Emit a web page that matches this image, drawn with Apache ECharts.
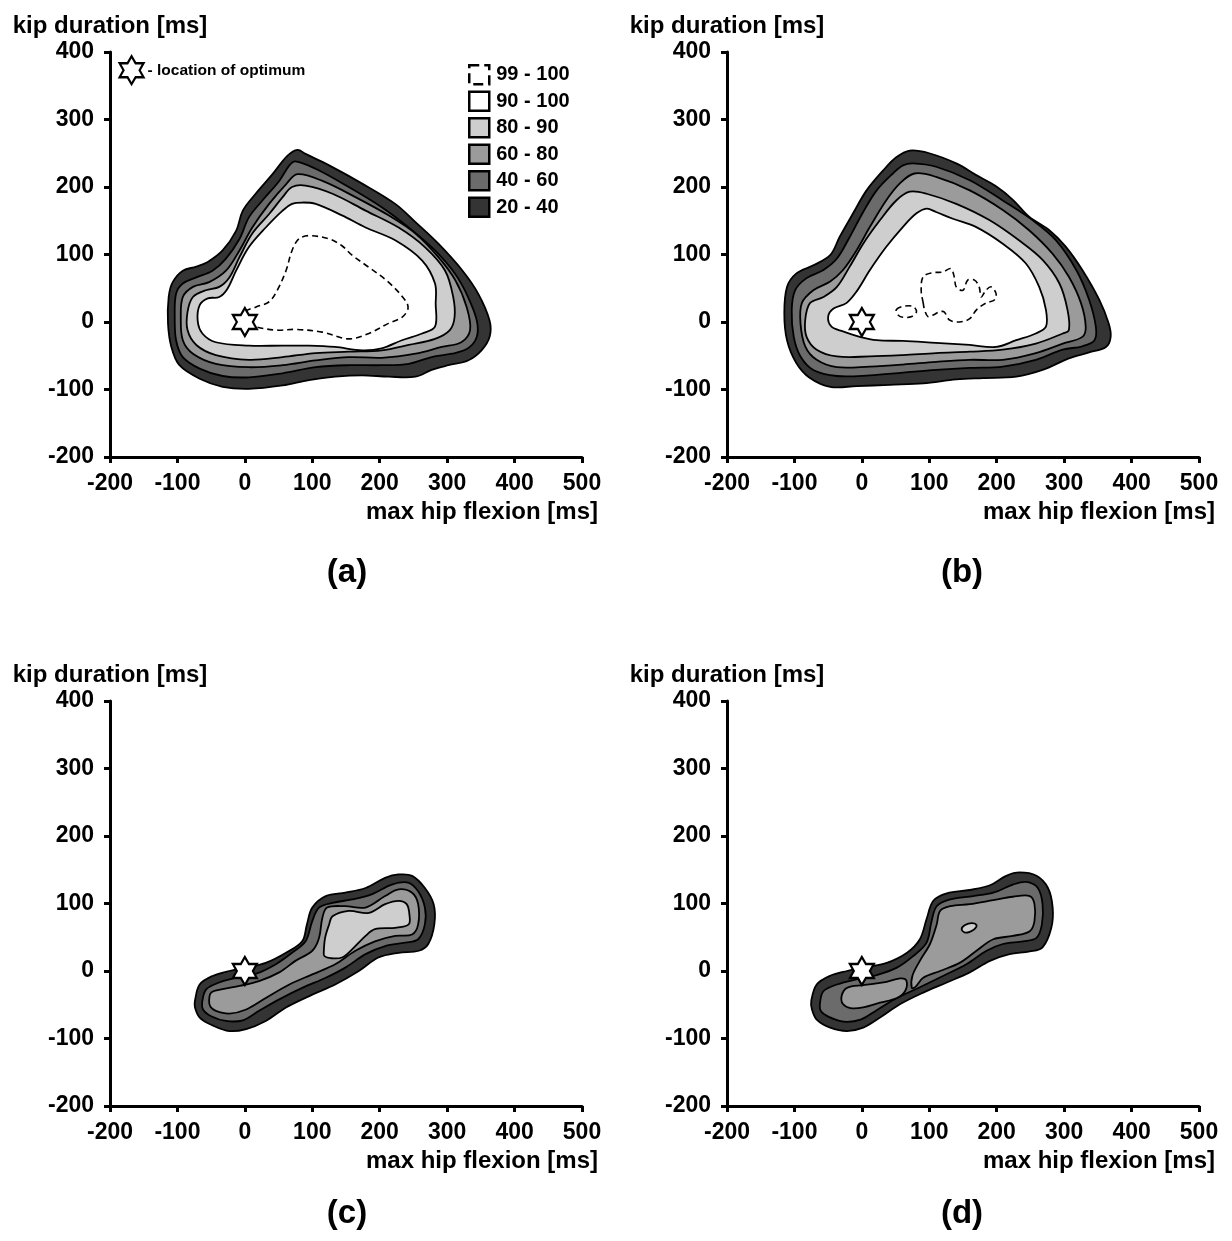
<!DOCTYPE html>
<html>
<head>
<meta charset="utf-8">
<script src="https://cdn.jsdelivr.net/npm/echarts@6/dist/echarts.min.js"></script>
<style>
html, body { margin: 0; padding: 0; background: #fff; }
#chart { width: 1232px; height: 1241px; }
</style>
</head>
<body>
<div id="chart"></div>
<script>
// contour levels (outermost first) and their grey fills
var levels = ['20 - 40', '40 - 60', '60 - 80', '80 - 90', '90 - 100', '99 - 100'];
var levelColors = ['#343434', '#6b6b6b', '#9b9b9b', '#cecece', '#ffffff', 'none'];
var panelLabels = ['(a)', '(b)', '(c)', '(d)'];

// panel (a)
var a20 = [[78,255],[90,249],[125,232],[174,205],[223,175],[253,148],[287,116],[322,77],[346,42],[363,2],[363,-22],[351,-42],[331,-57],[302,-64],[277,-71],[253,-81],[213,-81],[174,-79],[134,-81],[95,-86],[56,-94],[6,-99],[-33,-96],[-67,-84],[-97,-64],[-109,-37],[-114,-2],[-113,37],[-107,59],[-92,76],[-72,82],[-55,89],[-33,106],[-13,135],[-3,165],[16,190],[41,219],[63,246]];
var a40 = [[75,238],[105,227],[154,200],[203,170],[243,140],[282,106],[312,71],[331,37],[344,2],[344,-22],[331,-39],[307,-47],[277,-52],[243,-62],[203,-64],[154,-64],[105,-67],[56,-76],[6,-82],[-33,-80],[-67,-69],[-92,-52],[-102,-27],[-104,7],[-102,42],[-92,57],[-72,66],[-48,76],[-28,94],[-8,123],[6,155],[26,180],[51,209],[66,232]];
var a60 = [[78,219],[115,209],[164,185],[213,158],[253,131],[287,96],[312,62],[329,22],[334,-12],[321,-30],[292,-37],[253,-47],[203,-53],[154,-52],[105,-57],[56,-64],[6,-67],[-43,-62],[-77,-47],[-92,-27],[-95,7],[-92,37],[-77,52],[-53,59],[-28,76],[-8,106],[11,140],[36,175],[61,204]];
var a80 = [[70,200],[90,202],[130,190],[179,165],[228,140],[267,111],[297,76],[309,37],[311,7],[304,-12],[282,-25],[243,-34],[203,-42],[154,-44],[105,-46],[56,-52],[6,-56],[-43,-49],[-72,-34],[-85,-12],[-85,15],[-77,37],[-58,47],[-38,52],[-23,66],[-8,96],[11,131],[36,160],[56,185]];
var a90 = [[85,177],[105,175],[144,158],[179,140],[223,121],[263,91],[282,57],[283,27],[282,-7],[263,-17],[233,-27],[203,-39],[174,-42],[134,-37],[95,-35],[56,-35],[6,-35],[-43,-30],[-63,-17],[-70,2],[-67,25],[-55,35],[-38,37],[-26,49],[-13,76],[6,111],[31,140],[56,165],[70,175]];
var a99 = [[1,15],[16,22],[36,30],[48,47],[61,76],[70,106],[80,123],[95,128],[125,123],[144,113],[159,99],[184,81],[213,59],[238,32],[242,20],[233,7],[213,-2],[184,-17],[154,-25],[115,-15],[75,-11],[46,-12],[16,-7],[1,-1]];

// panel (b)
var b20 = [[71,254],[100,250],[140,235],[169,218],[199,201],[224,181],[248,156],[278,136],[302,112],[327,77],[352,33],[366,-2],[369,-22],[362,-37],[337,-45],[307,-54],[268,-71],[229,-81],[179,-83],[140,-85],[91,-91],[41,-93],[-8,-95],[-47,-96],[-77,-83],[-97,-61],[-111,-27],[-115,13],[-111,52],[-97,72],[-72,84],[-47,99],[-33,126],[-13,161],[7,195],[32,225],[51,244]];
var b40 = [[76,235],[110,230],[160,210],[209,180],[253,151],[288,121],[318,77],[337,33],[347,-7],[345,-27],[327,-36],[298,-41],[258,-56],[209,-66],[160,-68],[110,-71],[61,-75],[12,-79],[-37,-80],[-72,-71],[-91,-51],[-101,-22],[-104,18],[-99,47],[-82,65],[-57,77],[-37,94],[-18,126],[2,163],[22,195],[46,220],[61,232]];
var b60 = [[78,220],[110,215],[160,195],[209,166],[248,136],[283,101],[307,67],[325,28],[332,-7],[327,-22],[298,-32],[258,-46],[209,-56],[160,-56],[110,-59],[61,-63],[12,-66],[-37,-67],[-67,-56],[-84,-36],[-91,-2],[-89,28],[-72,47],[-47,60],[-28,77],[-8,106],[12,141],[36,180],[56,205]];
var b80 = [[71,193],[96,190],[140,175],[189,151],[233,121],[268,92],[293,57],[305,18],[307,-12],[298,-17],[258,-32],[209,-41],[160,-44],[110,-46],[61,-49],[12,-51],[-37,-51],[-67,-41],[-82,-22],[-84,3],[-77,28],[-57,37],[-37,52],[-18,82],[2,116],[27,151],[51,180]];
var b90 = [[96,168],[110,163],[135,153],[169,141],[209,116],[243,87],[263,52],[273,18],[273,-7],[258,-17],[229,-27],[199,-37],[160,-34],[110,-31],[61,-28],[22,-27],[-3,-22],[-28,-14],[-45,-7],[-50,8],[-42,20],[-23,28],[-8,45],[12,77],[36,111],[61,141],[81,161]];
var b99 = [[91,28],[88,47],[91,67],[105,73],[120,74],[132,79],[137,67],[140,52],[150,47],[157,62],[167,62],[174,52],[177,37],[184,47],[192,52],[199,42],[197,33],[184,28],[170,18],[160,5],[145,0],[130,3],[122,15],[115,15],[105,10],[98,8],[93,18]];
var b99small = [[51,18],[61,23],[76,23],[81,15],[74,8],[61,7],[54,10]];

// panel (c)
var c20 = [[-74,-44],[-67,-20],[-47,-7],[-23,0],[2,5],[31,12],[61,27],[85,44],[92,69],[100,94],[120,111],[149,116],[179,123],[208,138],[228,143],[248,141],[267,123],[280,99],[281,69],[272,40],[258,30],[228,27],[198,20],[169,0],[134,-20],[100,-35],[61,-54],[31,-74],[2,-86],[-23,-89],[-47,-81],[-67,-69],[-74,-54]];
var c40 = [[-63,-44],[-57,-27],[-38,-17],[-13,-10],[17,-4],[46,10],[70,27],[90,44],[100,74],[110,94],[130,101],[159,106],[189,114],[218,128],[242,131],[257,118],[267,94],[267,69],[257,47],[238,42],[208,37],[179,25],[149,5],[120,-10],[85,-25],[51,-42],[21,-59],[-3,-73],[-28,-74],[-50,-67],[-62,-57]];
var c60 = [[-53,-44],[-50,-32],[-33,-27],[-8,-22],[21,-15],[51,-2],[75,15],[100,30],[110,49],[115,79],[122,94],[149,96],[179,94],[208,111],[228,121],[248,116],[257,99],[257,69],[248,54],[223,52],[193,44],[164,30],[134,10],[100,-5],[66,-20],[31,-40],[2,-57],[-23,-63],[-43,-59],[-51,-53]];
var c80 = [[117,27],[119,49],[125,69],[130,81],[154,89],[184,86],[208,99],[228,104],[240,99],[244,84],[243,69],[223,64],[193,62],[179,52],[159,32],[144,20],[127,19],[118,22]];

// panel (d)
var d20 = [[-75,-44],[-67,-20],[-47,-7],[-22,0],[7,6],[37,12],[67,27],[86,47],[96,77],[106,104],[126,115],[160,120],[190,127],[214,141],[234,146],[259,141],[276,123],[283,94],[281,64],[268,35],[249,29],[219,25],[190,15],[160,-2],[126,-17],[91,-32],[57,-49],[27,-69],[2,-84],[-22,-89],[-47,-84],[-67,-72],[-74,-57]];
var d40 = [[-62,-47],[-57,-30],[-37,-20],[-7,-12],[22,-6],[52,5],[76,22],[96,42],[103,72],[111,96],[131,106],[165,111],[195,116],[224,128],[244,132],[261,123],[268,99],[267,69],[259,49],[239,44],[209,40],[185,30],[155,10],[121,-7],[86,-24],[52,-40],[22,-58],[-2,-72],[-27,-75],[-49,-68],[-61,-59]];
var d60left = [[-22,-25],[2,-21],[32,-17],[57,-11],[66,-14],[64,-30],[52,-40],[27,-47],[2,-54],[-17,-55],[-28,-49],[-30,-37]];
var d60right = [[74,-25],[75,-7],[86,15],[101,40],[111,69],[116,89],[131,96],[160,99],[195,105],[224,110],[249,111],[256,99],[256,74],[249,59],[224,52],[195,47],[170,30],[145,12],[116,0],[91,-10],[79,-24]];
var d80 = [[148,62],[153,68],[163,71],[170,68],[167,62],[160,58],[153,57]];

var optimum = [0, 0];
var keyStar = [-168, 373];

var panels = [
    [[a20], [a40], [a60], [a80], [a90], [a99]],
    [[b20], [b40], [b60], [b80], [b90], [b99, b99small]],
    [[c20], [c40], [c60], [c80]],
    [[d20], [d40], [d60left, d60right], [d80]]
];
var gridPos = [[110, 52], [727, 52], [110, 701], [727, 701]];
var labelPos = [[347, 556], [962, 556], [347, 1197], [962, 1197]];

var FONT = 'Liberation Sans';
var starPath = 'path://M100 0 L128.9 50 L186.6 50 L157.7 100 L186.6 150 L128.9 150 L100 200 L71.1 150 L13.4 150 L42.3 100 L13.4 50 L71.1 50 Z';

var chartDom = document.getElementById('chart');
var myChart = echarts.init(chartDom);

function polyRender(polys, color, dashed) {
    return function (params, api) {
        var pts = polys[params.dataIndex].map(function (p) { return api.coord(p); });
        return {
            type: 'polygon',
            shape: { points: pts, smooth: 0.35 },
            style: {
                fill: color,
                stroke: '#000',
                lineWidth: dashed ? 1.6 : 1.8,
                lineDash: dashed ? [6, 4] : null
            }
        };
    };
}

var grid = [], xAxis = [], yAxis = [], series = [], title = [];
gridPos.forEach(function (g, i) {
    grid.push({ left: g[0], top: g[1], width: 472, height: 405 });
    xAxis.push({
        gridIndex: i, type: 'value', min: -200, max: 500, interval: 100,
        name: 'max hip flexion [ms]', nameLocation: 'end', nameGap: 16,
        nameTextStyle: { fontFamily: FONT, fontWeight: 'bold', fontSize: 24, color: '#000', align: 'right', verticalAlign: 'top', padding: [43, 0, 0, 0] },
        axisLine: { onZero: false, lineStyle: { color: '#000', width: 3 } },
        axisTick: { length: 6, lineStyle: { color: '#000', width: 3 } },
        axisLabel: { margin: 15, fontFamily: FONT, fontWeight: 'bold', fontSize: 23, color: '#000' },
        splitLine: { show: false }
    });
    yAxis.push({
        gridIndex: i, type: 'value', min: -200, max: 400, interval: 100,
        name: 'kip duration [ms]', nameLocation: 'end', nameGap: 14,
        nameTextStyle: { fontFamily: FONT, fontWeight: 'bold', fontSize: 24, color: '#000' },
        axisLine: { show: true, onZero: false, lineStyle: { color: '#000', width: 3 } },
        axisTick: { show: true, length: 6, lineStyle: { color: '#000', width: 3 } },
        axisLabel: { margin: 16, fontFamily: FONT, fontWeight: 'bold', fontSize: 23, color: '#000' },
        splitLine: { show: false }
    });
    title.push({
        text: panelLabels[i], left: labelPos[i][0], top: labelPos[i][1], textAlign: 'center', padding: 0,
        textStyle: { fontFamily: FONT, fontWeight: 'bold', fontSize: 33, color: '#000' }
    });
    panels[i].forEach(function (polys, k) {
        var dashed = k === 5;
        series.push({
            type: 'custom', name: levels[k], xAxisIndex: i, yAxisIndex: i,
            z: 2 + k, silent: true, animation: false,
            itemStyle: { color: dashed ? '#fff' : levelColors[k] },
            renderItem: polyRender(polys, levelColors[k], dashed),
            data: polys.map(function (p) { return p[0]; })
        });
    });
    series.push({
        type: 'scatter', xAxisIndex: i, yAxisIndex: i, z: 20, silent: true, animation: false,
        symbol: starPath, symbolSize: [24, 28],
        itemStyle: { color: '#fff', borderColor: '#000', borderWidth: 2.2, opacity: 1 },
        data: [optimum]
    });
});

// key for the star in panel (a)
series.push({
    type: 'scatter', xAxisIndex: 0, yAxisIndex: 0, z: 20, silent: true, animation: false,
    symbol: starPath, symbolSize: [24, 28],
    itemStyle: { color: '#fff', borderColor: '#000', borderWidth: 2.2, opacity: 1 },
    label: { show: true, position: 'right', distance: 3, formatter: '- location of optimum', fontFamily: FONT, fontWeight: 'bold', fontSize: 15.5, color: '#000' },
    data: [keyStar]
});

var legendData = levels.slice().reverse().map(function (name, j) {
    var k = levels.length - 1 - j;
    return {
        name: name,
        itemStyle: { color: k === 5 ? '#fff' : levelColors[k], borderColor: '#000', borderWidth: 2.5, borderType: k === 5 ? 'dashed' : 'solid' }
    };
});

var option = {
    backgroundColor: '#fff',
    animation: false,
    title: title,
    legend: {
        orient: 'vertical', left: 468, top: 64, padding: 0,
        icon: 'rect', itemWidth: 20, itemHeight: 19, itemGap: 5,
        selectedMode: false,
        textStyle: { fontFamily: FONT, fontWeight: 'bold', fontSize: 20, color: '#000', padding: [0, 0, 0, 2] },
        data: legendData
    },
    grid: grid,
    xAxis: xAxis,
    yAxis: yAxis,
    series: series
};

option && myChart.setOption(option);
window.addEventListener('resize', myChart.resize);
</script>
</body>
</html>
